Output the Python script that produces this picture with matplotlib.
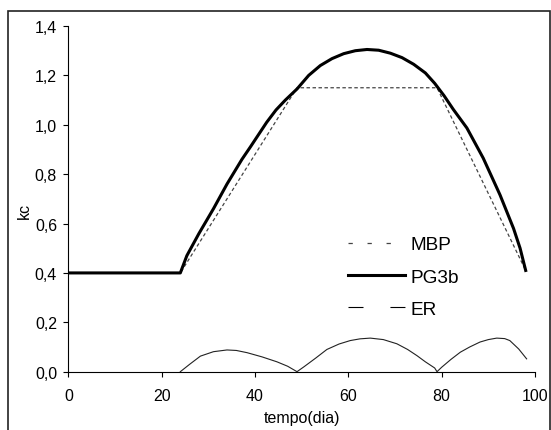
import matplotlib
matplotlib.use("Agg")
import matplotlib.pyplot as plt
from matplotlib.lines import Line2D
from matplotlib.patches import Rectangle
from matplotlib.ticker import FuncFormatter, MultipleLocator

plt.rcParams['font.family'] = ['Liberation Sans', 'DejaVu Sans']
plt.rcParams['lines.scale_dashes'] = False

# MBP: kc by stage (straight segments)
mbp_x = [0, 24, 49, 79, 98]
mbp_y = [0.40, 0.40, 1.15, 1.15, 0.41]

# PG3b: smooth kc curve
pg_x = [0, 24, 25.4, 28, 31.1, 34, 37.2, 39, 42.5, 44.5, 46.5, 49, 51.5, 54,
        56.5, 59, 61.5, 64, 66.5, 69, 71.5, 74, 76.5, 78.5, 80.5, 82.5, 85.4,
        88.9, 92.5, 95.4, 96.8, 98]
pg_y = [0.40, 0.40, 0.47, 0.56, 0.66, 0.76, 0.86, 0.91, 1.01, 1.06, 1.10, 1.145,
        1.20, 1.24, 1.268, 1.288, 1.300, 1.305, 1.302, 1.29, 1.272, 1.245, 1.21,
        1.168, 1.118, 1.062, 0.987, 0.865, 0.716, 0.58, 0.50, 0.41]

# ER: error between the two
er_x = [24, 26, 28.3, 31.1, 34, 36, 38.3, 41.5, 44.7, 47, 49, 50.5, 53, 55.4,
        58, 60.4, 62.5, 64.7, 67.5, 70.4, 72.7, 74.7, 76.5, 78.5, 79, 80, 82,
        84, 86, 88.2, 90, 91.8, 93.5, 94.6, 96.5, 98.2]
er_y = [0.0, 0.03, 0.063, 0.081, 0.088, 0.086, 0.077, 0.06, 0.04, 0.022, 0.0,
        0.02, 0.055, 0.09, 0.112, 0.126, 0.133, 0.136, 0.13, 0.113, 0.09,
        0.065, 0.04, 0.015, 0.0, 0.018, 0.05, 0.079, 0.1, 0.12, 0.13, 0.136,
        0.134, 0.126, 0.092, 0.052]

labels = ["MBP", "PG3b", "ER"]

fig = plt.figure(figsize=(5.51, 4.31), dpi=100)
ax = fig.add_axes([0.124, 0.1353, 0.847, 0.802])

ax.plot(mbp_x, mbp_y, color='#444444', lw=0.9, linestyle=(0, (2.5, 1.8)))
ax.plot(pg_x, pg_y, color='black', lw=2.2)
ax.plot(er_x, er_y, color='#222222', lw=0.8)

ax.set_xlim(0, 100)
ax.set_ylim(0, 1.4)
ax.xaxis.set_major_locator(MultipleLocator(20))
ax.yaxis.set_major_locator(MultipleLocator(0.2))
ax.yaxis.set_major_formatter(FuncFormatter(lambda v, p: ("%.1f" % v).replace('.', ',')))

for s in ['top', 'right']:
    ax.spines[s].set_visible(False)
for s in ['left', 'bottom']:
    ax.spines[s].set_linewidth(0.8)

ax.tick_params(axis='both', direction='out', length=3.6, width=0.8, labelsize=11.5)
ax.tick_params(axis='x', pad=8.5)
ax.tick_params(axis='y', pad=4.5)

ax.set_xlabel("tempo(dia)", fontsize=11.5)
ax.set_ylabel("kc", fontsize=11.5)
ax.xaxis.set_label_coords(0.5, -0.112)
ax.yaxis.set_label_coords(-0.078, 0.468)

handles = [
    Line2D([], [], color='#444444', lw=0.9, linestyle=(0, (3.1, 10.6))),
    Line2D([], [], color='black', lw=2.2),
    Line2D([], [], color='black', lw=0.8, linestyle=(0, (10.8, 19.4))),
]
ax.legend(handles, labels, loc='upper left', bbox_to_anchor=(0.599, 0.393),
          frameon=False, fontsize=13.7, borderpad=0, borderaxespad=0,
          handlelength=3.0, handletextpad=0.3, labelspacing=0.79)

# outer frame around the chart
fig.add_artist(Rectangle((8 / 551, -0.05), 542 / 551, 1 - 12 / 431 + 0.05,
                         transform=fig.transFigure, fill=False,
                         edgecolor='#222222', lw=1.2))

fig.savefig("out.png", dpi=100)
